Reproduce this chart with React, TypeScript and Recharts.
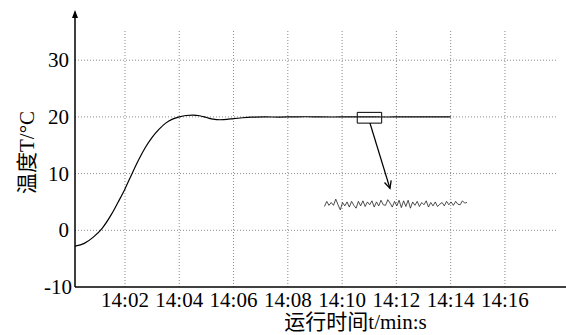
import { Line, LineChart, ReferenceArea, ReferenceDot, ReferenceLine, XAxis, YAxis } from "recharts";

const FONT = "'Liberation Serif', 'Times New Roman', 'Noto Sans CJK SC', serif";

// seconds after 14:00:00
const curveT = [9.5, 30, 50, 70, 90, 105, 120, 135, 150, 165, 180, 195, 210, 225, 240, 255, 270, 285, 300, 315, 330, 345, 360, 380, 400, 430, 460, 490, 520, 550, 580, 610, 640, 670, 700, 730, 760, 790, 820, 840];
const curveTemp = [-2.8, -2.3, -1.2, 0.4, 2.8, 5.0, 7.3, 9.9, 12.4, 14.6, 16.4, 17.8, 18.9, 19.6, 20.0, 20.25, 20.3, 20.2, 19.9, 19.6, 19.5, 19.55, 19.7, 19.85, 19.95, 20.0, 19.97, 20.0, 20.03, 20.0, 19.98, 20.0, 20.02, 20.0, 19.98, 20.0, 20.02, 20.0, 19.99, 20.0];

// zoomed-in noise shown under the arrow
const noiseT = [561, 566, 571, 576, 581, 586, 591, 596, 601, 606, 611, 616, 621, 626, 631, 636, 641, 646, 651, 656, 661, 666, 671, 676, 681, 686, 691, 696, 701, 706, 711, 716, 721, 726, 731, 736, 741, 746, 751, 756, 761, 766, 771, 776, 781, 786, 791, 796, 801, 806, 811, 816, 821, 826, 831, 836, 841, 846, 851, 856, 861, 866, 871, 876];
const noiseTemp = [4.2, 5.1, 4.4, 4.9, 4.4, 5.5, 4.5, 3.6, 4.9, 4.3, 5.0, 4.1, 5.1, 4.4, 3.9, 5.1, 4.3, 5.2, 4.2, 5.0, 4.5, 5.2, 4.1, 5.0, 4.3, 5.3, 4.5, 4.4, 5.4, 4.8, 4.1, 5.1, 4.3, 5.3, 4.0, 5.2, 4.2, 5.3, 3.9, 5.0, 4.4, 5.1, 4.2, 4.9, 4.5, 5.2, 4.1, 4.9, 4.3, 5.0, 4.2, 4.6, 4.9, 4.3, 5.1, 4.5, 5.0, 4.4, 5.1, 4.6, 4.5, 5.2, 4.8, 4.9];

const xTicks = [120, 240, 360, 480, 600, 720, 840, 960];
const xTickLabels = ["14:02", "14:04", "14:06", "14:08", "14:10", "14:12", "14:14", "14:16"];
const yTicks = [-10, 0, 10, 20, 30];
const hGrid = [0, 10, 20, 30];

const curveData = curveT.map((t, i) => ({ t, temp: curveTemp[i] }));
const noiseData = noiseT.map((t, i) => ({ t, temp: noiseTemp[i] }));

const X_MIN = 9.5;
const X_MAX = 1095;
const Y_MIN = -10;
const Y_MAX = 38.5;

const gridStyle = { stroke: "#8a8a8a", strokeWidth: 1, strokeDasharray: "1 2" };

function XTick(props: any) {
  const { x, y, payload } = props;
  return (
    <text x={x} y={y + 20} textAnchor="middle" style={{ fontSize: 21, fontFamily: FONT }} fill="#000">
      {xTickLabels[xTicks.indexOf(payload.value)]}
    </text>
  );
}

function YTick(props: any) {
  const { x, y, payload } = props;
  const low = payload.value === Y_MIN;
  return (
    <text x={x + (low ? 3 : 0)} y={y + 7} textAnchor="end" style={{ fontSize: 21, fontFamily: FONT }} fill="#000">
      {payload.value}
    </text>
  );
}

function AxisArrow(props: any) {
  const { cx, cy } = props;
  return <path d={`M${cx},${cy - 2} L${cx - 3},${cy + 6} L${cx + 3},${cy + 6} Z`} fill="#000" />;
}

function PointerArrow(props: any) {
  const { x1, y1, x2, y2 } = props;
  const a = Math.atan2(y2 - y1, x2 - x1);
  const len = 8;
  const spread = 0.45;
  const ax = x2 - len * Math.cos(a - spread);
  const ay = y2 - len * Math.sin(a - spread);
  const bx = x2 - len * Math.cos(a + spread);
  const by = y2 - len * Math.sin(a + spread);
  return (
    <g stroke="#000" strokeWidth={1.3} fill="none">
      <line x1={x1} y1={y1} x2={x2} y2={y2} />
      <polyline points={`${ax},${ay} ${x2},${y2} ${bx},${by}`} />
    </g>
  );
}

export default function App() {
  return (
    <div style={{ width: 566, height: 335, background: "#fff", fontFamily: FONT }}>
      <style>{"body{margin:0}"}</style>
      <LineChart width={566} height={335} data={curveData} margin={{ top: 12, right: 0, bottom: 0, left: 0 }}>
        <XAxis
          dataKey="t"
          type="number"
          domain={[X_MIN, X_MAX]}
          ticks={xTicks}
          interval={0}
          allowDataOverflow
          height={48}
          tickLine={false}
          tickSize={0}
          tickMargin={0}
          axisLine={{ stroke: "#000", strokeWidth: 1.3 }}
          tick={(p: any) => <XTick {...p} />}
          label={{
            content: ({ viewBox }: any) => (
              <text x={viewBox.x + viewBox.width / 2 + 35} y={viewBox.y + 42} textAnchor="middle" fontSize={21} fontFamily={FONT} fill="#000">
                运行时间t/min:s
              </text>
            ),
          }}
        />
        <YAxis
          type="number"
          domain={[Y_MIN, Y_MAX]}
          ticks={yTicks}
          allowDataOverflow
          width={75}
          tickLine={false}
          tickSize={0}
          tickMargin={6}
          axisLine={{ stroke: "#000", strokeWidth: 1.5 }}
          tick={(p: any) => <YTick {...p} />}
          label={{
            content: ({ viewBox }: any) => {
              const cx = 27;
              const cy = viewBox.y + viewBox.height / 2 + 3;
              return (
                <text x={cx} y={cy} transform={`rotate(-90 ${cx} ${cy})`} textAnchor="middle" dominantBaseline="central" fontSize={21} fontFamily={FONT} fill="#000">
                  温度T/°C
                </text>
              );
            },
          }}
        />
        {xTicks.map((t) => (
          <ReferenceLine key={`v${t}`} segment={[{ x: t, y: Y_MIN }, { x: t, y: 35.2 }]} {...gridStyle} />
        ))}
        {hGrid.map((v) => (
          <ReferenceLine key={`h${v}`} segment={[{ x: X_MIN, y: v }, { x: 1077, y: v }]} {...gridStyle} />
        ))}
        <ReferenceArea x1={544} x2={887} y1={-0.6} y2={9.5} fill="#fff" fillOpacity={1} stroke="none" />
        <Line dataKey="temp" type="monotone" stroke="#000" strokeWidth={1.2} dot={false} isAnimationActive={false} />
        <Line data={noiseData} dataKey="temp" type="linear" stroke="#222" strokeWidth={0.8} dot={false} isAnimationActive={false} />
        <ReferenceArea x1={633.5} x2={687.5} y1={18.9} y2={20.8} fill="none" stroke="#000" strokeWidth={1} />
        <ReferenceLine segment={[{ x: 661.6, y: 18.9 }, { x: 705.8, y: 7.4 }]} shape={PointerArrow} />
        <ReferenceDot x={X_MIN} y={Y_MAX} r={3} ifOverflow="visible" shape={AxisArrow} />
      </LineChart>
    </div>
  );
}
